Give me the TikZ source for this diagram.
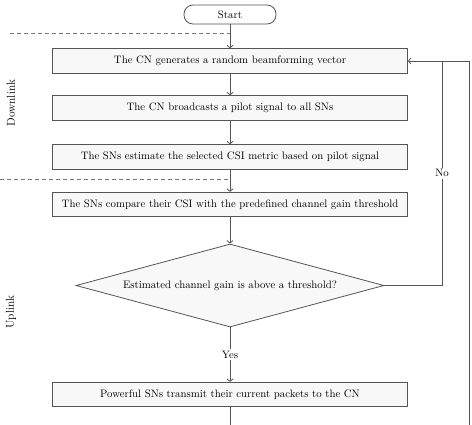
\documentclass[tikz,border=0pt]{standalone}
\usetikzlibrary{arrows.meta,positioning,shapes.geometric}

\begin{document}
\begin{tikzpicture}[
  x=1pt, y=-1pt,
  font=\fontsize{10.8}{12}\selectfont,
  >={Straight Barb[length=2.5pt,width=6pt]},
  box/.style={draw=cline, fill=cfill, minimum width=355pt, minimum height=24.5pt, align=center, line width=0.8pt, inner sep=0pt},
  startbox/.style={draw=cline, rounded corners=9pt, minimum width=92pt, minimum height=19pt, line width=0.8pt, inner sep=0pt},
  decision/.style={draw=cline, fill=cfill, shape=diamond, aspect=3.71, minimum width=308pt, minimum height=83pt, line width=0.8pt, inner sep=0pt},
  flow/.style={->, draw=cline, line width=0.8pt},
  phase/.style={draw=cline!80, dashed, dash pattern=on 4pt off 3pt, line width=0.8pt},
  lbl/.style={fill=white, inner sep=2pt}
]

\definecolor{cline}{RGB}{85,85,85}
\definecolor{cfill}{RGB}{248,248,248}

\useasboundingbox (0,0) rectangle (472,424);

\node[startbox] (start) at (230,14.5) {Start};

% Downlink phase
\node[box] (gen) at (230,61) {The CN generates a random beamforming vector};
\node[box] (pilot) at (230,108) {The CN broadcasts a pilot signal to all SNs};
\node[box] (est) at (230,157) {The SNs estimate the selected CSI metric based on pilot signal};

% Uplink phase
\node[box] (cmp) at (230,204.5) {The SNs compare their CSI with the predefined channel gain threshold};
\node[decision] (dec) at (230,285.5) {Estimated channel gain is above a threshold?};
\node[box] (tx) at (230,394.5) {Powerful SNs transmit their current packets to the CN};

\node[rotate=90, font=\fontsize{11.5}{12}\selectfont] (down) at (11,103) {Downlink};
\node[rotate=90, font=\fontsize{11.5}{12}\selectfont] (up) at (11,312) {Uplink};

\coordinate (d1a) at (10,33);
\coordinate (d1b) at (230,33);
\coordinate (d2a) at (0,179);
\coordinate (d2b) at (230,179);
\draw[phase] (d1a) -- (d1b);
\draw[phase] (d2a) -- (d2b);

\draw[flow] (start) -- (gen);
\draw[flow] (gen) -- (pilot);
\draw[flow] (pilot) -- (est);
\draw[flow] (est) -- (cmp);
\draw[flow] (cmp) -- (dec);
\draw[flow] (dec) -- node[lbl] (yes) {Yes} (tx);

% loop back
\coordinate (notop) at (442,61);
\coordinate (loopa) at (230,428);
\coordinate (loopb) at (469,428);
\draw[flow, -] (dec.east) -| node[lbl, pos=0.75] (no) {No} (notop);
\draw[flow] (tx) -- (loopa) -- (loopb) |- (gen.east);

\end{tikzpicture}
\end{document}
